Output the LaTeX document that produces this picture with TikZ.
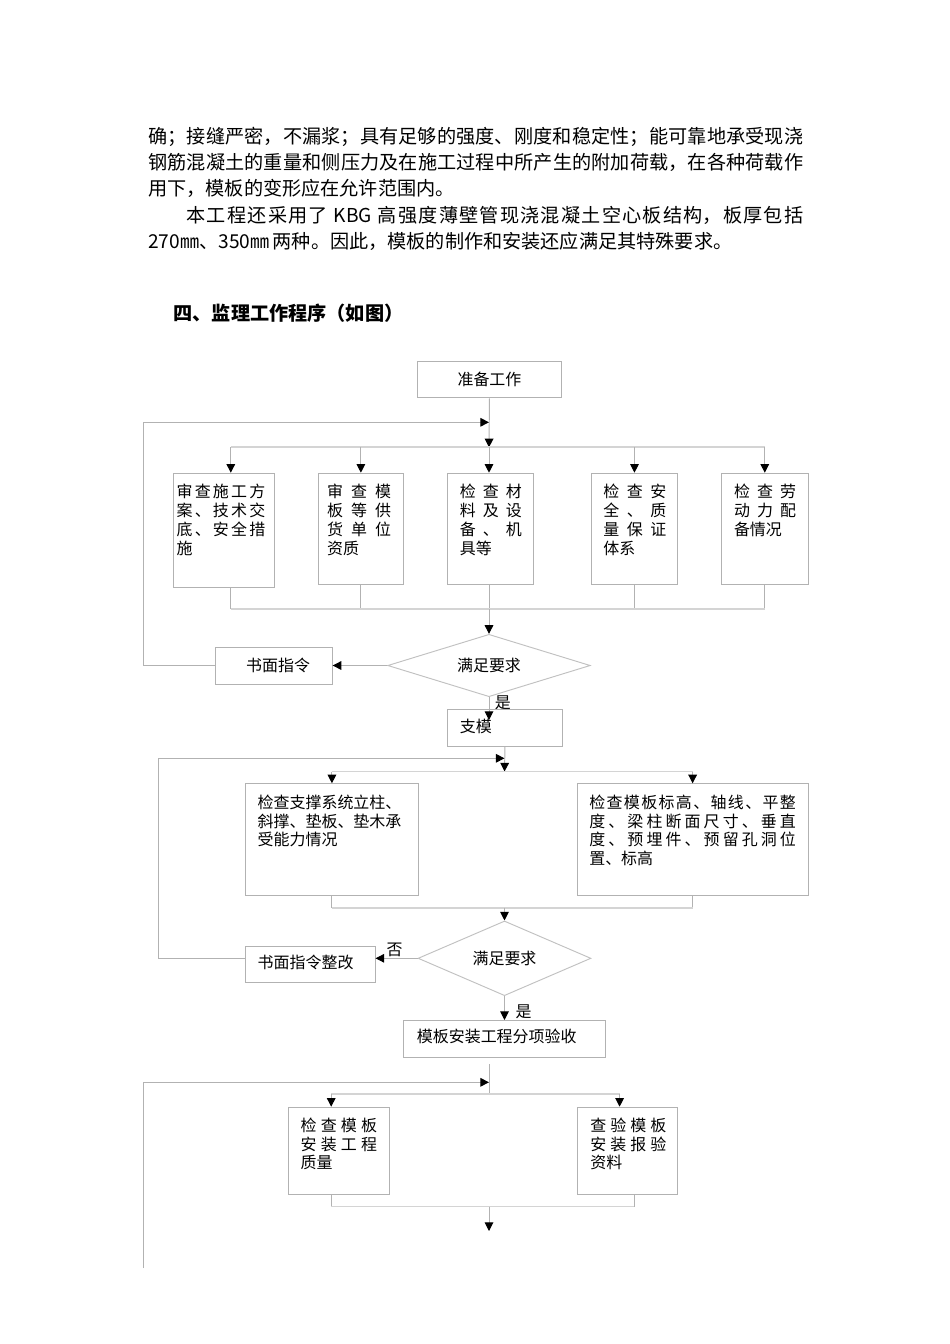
\documentclass[tikz,border=0pt]{standalone}
\usepackage{fontspec}
\setmainfont{Noto Sans CJK SC}
\usetikzlibrary{arrows.meta,shapes.geometric}
\newdimen\pxu \pxu=0.6266pt
\definecolor{xiangui}{RGB}{178,178,178}
\definecolor{fengui}{RGB}{212,212,212}
\newcommand\jline[1]{\makebox[\linewidth][s]{\spaceskip=0pt plus 1fil\relax #1}\\}
\setlength\parindent{0pt}
\tolerance=10000 \hbadness=10000
\XeTeXlinebreaklocale "zh"
\XeTeXlinebreakskip=0pt plus 1pt

\begin{document}
\begin{tikzpicture}[x=0.6266pt,y=-0.6266pt,
    kuang/.style={draw=xiangui,line width=0.6pt,inner sep=0,anchor=north west},
    zi/.style={anchor=base west,inner sep=0,font=\fontsize{10pt}{11.9pt}\selectfont},
    kuangzi/.style={zi,text width=#1\pxu,align=left},
    panduan/.style={draw=xiangui!80,line width=0.6pt,diamond,inner sep=0,font=\fontsize{10pt}{11.9pt}\selectfont},
    xian/.style={draw=xiangui,line width=0.6pt},
    jian/.style={xian,-{Triangle[length=5.4pt,width=5.4pt,color=black]}},
    fen/.style={draw=fengui,line width=1.2pt}]
    \useasboundingbox (0,0) rectangle (950,1344);

    \node[anchor=base west,inner sep=0,text width=655\pxu,align=justify,font=\fontsize{12pt}{16.6pt}\selectfont] (duanluo) at (148,143) {确；接缝严密，不漏浆；具有足够的强度、刚度和稳定性；能可靠地承受现浇\linebreak
    钢筋混凝土的重量和侧压力及在施工过程中所产生的附加荷载，在各种荷载作\linebreak
    用下，模板的变形应在允许范围内。\par
    \hspace*{24pt}本工程还采用了 KBG 高强度薄壁管现浇混凝土空心板结构，板厚包括\linebreak
    270㎜、350㎜\kern2pt 两种。因此，模板的制作和安装还应满足其特殊要求。};
    \node[anchor=base west,inner sep=0,font=\fontsize{12pt}{14pt}\selectfont\bfseries] (biaoti) at (173.3,320) {四、监理工作程序（如图）};

    % first round
    \node[kuang,minimum width=144\pxu,minimum height=36.6\pxu,font=\fontsize{10pt}{11.9pt}\selectfont] (zhunbei) at (417,360.7) {准备工作};
    \coordinate (huiA) at (143.3,422.3);
    \coordinate (fenA) at (489,447.3);
    \coordinate (l1) at (230.8,447.3);
    \coordinate (heA) at (489,609.3);
    \draw[jian] (zhunbei.south) -- (fenA);
    \node[kuang,minimum width=101.2\pxu,minimum height=114.6\pxu] (shencha) at (172.5,472.7) {};
    \node[kuang,minimum width=85.8\pxu,minimum height=111.6\pxu] (zizhi) at (317.5,472.7) {};
    \node[kuang,minimum width=86\pxu,minimum height=111.6\pxu] (cailiao) at (447,472.7) {};
    \node[kuang,minimum width=86\pxu,minimum height=111.6\pxu] (anquan) at (591,472.7) {};
    \node[kuang,minimum width=86.6\pxu,minimum height=111.6\pxu] (laodong) at (721,472.7) {};
    \node[kuangzi=88.5] (shenchazi) at (176.4,497.8) {\jline{审 查 施 工 方}\jline{案 、 技 术 交}\jline{底 、 安 全 措}施};
    \node[kuangzi=64] (zizhizi) at (326.8,497.8) {\jline{审 查 模}\jline{板 等 供}\jline{货 单 位}资质};
    \node[kuangzi=62] (cailiaozi) at (459.5,497.8) {\jline{检 查 材}\jline{料 及 设}\jline{备 、 机}具等};
    \node[kuangzi=63] (anquanzi) at (603,497.8) {\jline{检 查 安}\jline{全 、 质}\jline{量 保 证}体系};
    \node[kuangzi=62] (laodongzi) at (733.7,497.8) {\jline{检 查 劳}\jline{动 力 配}备情况};
    \draw[fen] (l1) -- (laodong.north |- fenA);
    \draw[jian] (l1) -- (l1 |- shencha.north);
    \draw[jian] (zizhi.north |- fenA) -- (zizhi.north);
    \draw[jian] (fenA) -- (fenA |- cailiao.north);
    \draw[jian] (anquan.north |- fenA) -- (anquan.north);
    \draw[jian] (laodong.north |- fenA) -- (laodong.north);
    \draw[xian] (l1 |- shencha.south) -- (l1 |- heA);
    \draw[xian] (zizhi.south) -- (zizhi.south |- heA);
    \draw[xian] (fenA |- cailiao.south) -- (heA);
    \draw[xian] (anquan.south) -- (anquan.south |- heA);
    \draw[xian] (laodong.south) -- (laodong.south |- heA);
    \draw[fen] (l1 |- heA) -- (laodong.south |- heA);
    \node[panduan,minimum width=202.6\pxu,minimum height=62.4\pxu,aspect=3.2] (pdA) at (489,665.5) {\raisebox{-3pt}{满足要求}};
    \draw[jian] (heA) -- (pdA.north);
    \node[kuang,minimum width=116.3\pxu,minimum height=37.6\pxu] (shumian) at (215.4,646.7) {};
    \node[zi] (shumianzi) at (245.9,671.1) {书面指令};
    \draw[jian] (pdA.west) -- (pdA.west -| shumian.east);
    \draw[jian] (shumian.west |- pdA.west) -| (huiA) -- (fenA |- huiA);
    \node[zi,anchor=center] (shiA) at (502.8,702.7) {是};
    \node[kuang,minimum width=115\pxu,minimum height=36.7\pxu] (zhimo) at (447,709.3) {};
    \node[zi] (zhimozi) at (459.5,732.8) {支模};
    \coordinate (ruA) at (489,720);
    \draw[jian] (pdA.south) -- (ruA);

    % second round
    \coordinate (huiB) at (158.7,758.3);
    \coordinate (fenB) at (504.5,771.5);
    \coordinate (heB) at (504.5,907.7);
    \draw[jian] (zhimo.south) -- (fenB);
    \node[kuang,minimum width=172.9\pxu,minimum height=111.7\pxu] (zhicheng) at (245,783.3) {};
    \node[kuang,minimum width=230.9\pxu,minimum height=111.7\pxu] (chicun) at (576.7,783.3) {};
    \node[kuangzi=150] (zhichengzi) at (257.4,808) {检查支撑系统立柱、\\斜撑、垫板、垫木承\\受能力情况};
    \node[kuangzi=206.6] (chicunzi) at (589,808) {\jline{检 查 模 板 标 高 、 轴 线 、 平 整}\jline{度 、 梁 柱 断 面 尺 寸 、 垂 直}\jline{度 、 预 埋 件 、 预 留 孔 洞 位}置、标高};
    \draw[fen] (zhicheng.north |- fenB) -- (chicun.north |- fenB);
    \draw[jian] (zhicheng.north |- fenB) -- (zhicheng.north);
    \draw[jian] (chicun.north |- fenB) -- (chicun.north);
    \draw[xian] (zhicheng.south) -- (zhicheng.south |- heB);
    \draw[xian] (chicun.south) -- (chicun.south |- heB);
    \draw[fen] (zhicheng.south |- heB) -- (chicun.south |- heB);
    \node[panduan,minimum width=172.9\pxu,minimum height=74.7\pxu,aspect=2.3] (pdB) at (504.5,958.3) {满足要求};
    \draw[jian] (heB) -- (pdB.north);
    \node[kuang,minimum width=129.6\pxu,minimum height=36.6\pxu] (zhenggai) at (245,945.7) {};
    \node[zi] (zhenggaizi) at (257.4,968.8) {书面指令整改};
    \draw[jian] (pdB.west) -- (pdB.west -| zhenggai.east);
    \node[zi,anchor=center] (fou) at (394.5,950) {否};
    \draw[jian] (zhenggai.west |- pdB.west) -| (huiB) -- (fenB |- huiB);
    \node[zi,anchor=center] (shiB) at (523.6,1011.7) {是};
    \node[kuang,minimum width=202.1\pxu,minimum height=37.3\pxu] (yanshou) at (403.3,1020) {};
    \node[zi] (yanshouzi) at (416.6,1042.8) {模板安装工程分项验收};
    \draw[jian] (pdB.south) -- (pdB.south |- yanshou.north);

    % third round
    \coordinate (qiC) at (489,1064);
    \coordinate (huiC) at (143.3,1082.3);
    \coordinate (diC) at (143.3,1268);
    \coordinate (l2) at (331.2,1094.3);
    \coordinate (r2) at (619.6,1094.3);
    \coordinate (l3) at (331.2,1206.5);
    \coordinate (r3) at (634.2,1206.5);
    \coordinate (heC) at (489,1206.5);
    \coordinate (moC) at (489,1231);
    \draw[xian] (qiC) -- (qiC |- l2);
    \draw[jian] (diC) -- (huiC) -- (qiC |- huiC);
    \node[kuang,minimum width=100.4\pxu,minimum height=87.6\pxu] (zhiliang) at (288.3,1106.7) {};
    \node[kuang,minimum width=100.4\pxu,minimum height=87.6\pxu] (ziliao) at (576.7,1106.7) {};
    \node[kuangzi=76.5] (zhiliangzi) at (300.3,1131) {\jline{检 查 模 板}\jline{安 装 工 程}质量};
    \node[kuangzi=76] (ziliaozi) at (590,1131) {\jline{查 验 模 板}\jline{安 装 报 验}资料};
    \draw[fen] (l2) -- (r2);
    \draw[jian] (l2) -- (l2 |- zhiliang.north);
    \draw[jian] (r2) -- (r2 |- ziliao.north);
    \draw[xian] (l3 |- zhiliang.south) -- (l3);
    \draw[xian] (r3 |- ziliao.south) -- (r3);
    \draw[fen] (l3) -- (r3);
    \draw[jian] (heC) -- (moC);
\end{tikzpicture}
\end{document}
